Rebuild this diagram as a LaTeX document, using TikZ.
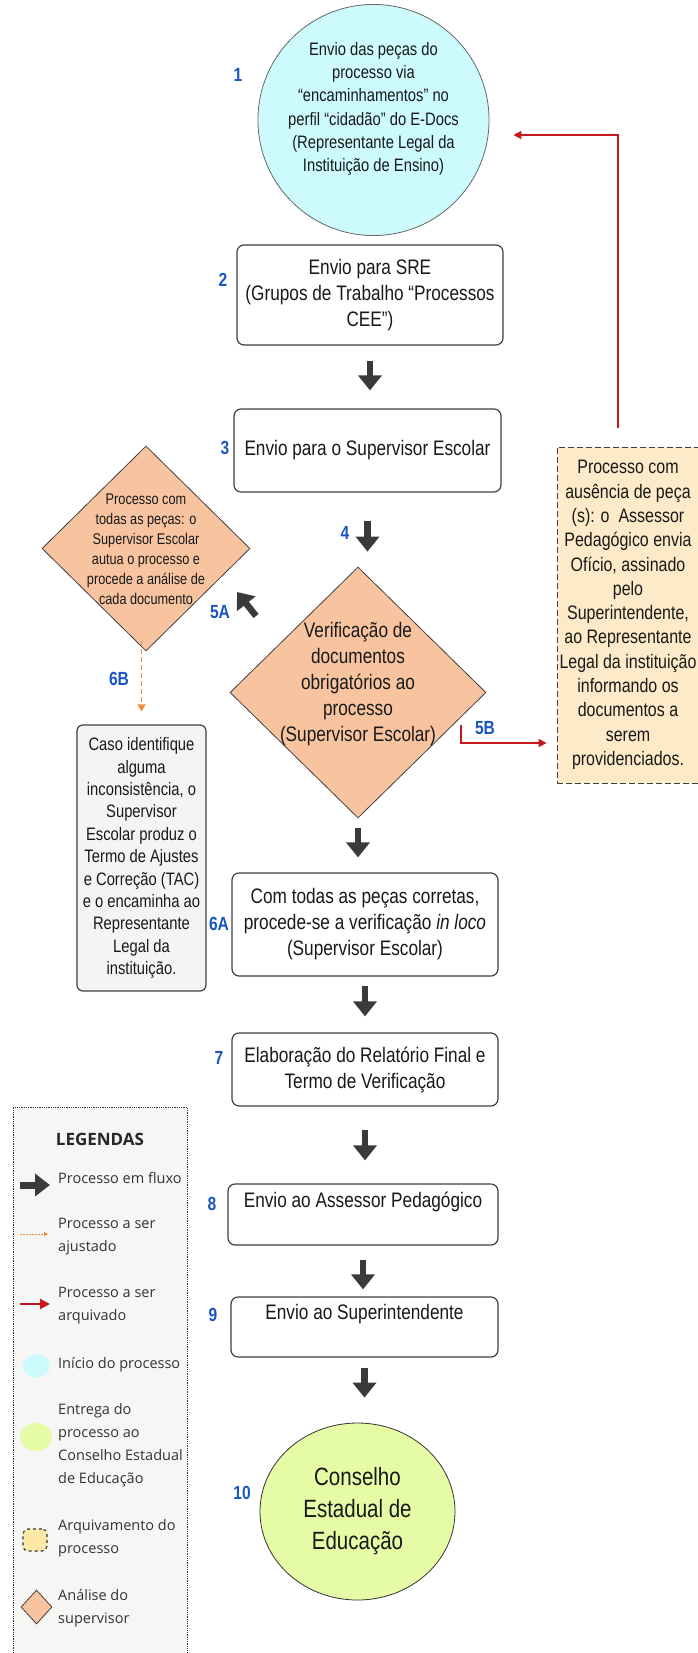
\documentclass[tikz,border=0pt]{standalone}
\usepackage{fontspec}
\setmainfont{Liberation Sans}[FakeStretch=0.82]
\newfontfamily\legendfont{Open Sans}
\usetikzlibrary{arrows.meta,shapes.geometric}

\definecolor{flowgray}{HTML}{3A3A3A}
\definecolor{boxline}{HTML}{404040}
\definecolor{numblue}{HTML}{1A55C2}
\definecolor{startcyan}{HTML}{CCFAFD}
\definecolor{ceegreen}{HTML}{E6FBA6}
\definecolor{suporange}{HTML}{F8C4A0}
\definecolor{archbeige}{HTML}{FDEAC8}
\definecolor{archyellow}{HTML}{FDE8A6}
\definecolor{tacgray}{HTML}{F4F5F2}
\definecolor{legendgray}{HTML}{F6F6F4}
\definecolor{rejectred}{HTML}{C8161B}
\definecolor{adjustorange}{HTML}{EF8A3C}

\tikzset{
    proc/.style={draw=boxline, line width=1.2pt, rounded corners=7pt, fill=white, align=center,
        inner sep=2pt, text=black!90, font=\fontsize{21}{26}\selectfont},
    num/.style={text=numblue, font=\fontsize{19}{19}\selectfont\bfseries},
    flow/.style={draw=flowgray, line width=6.5pt, -{Triangle[width=23pt,length=15pt]}},
    reject/.style={draw=rejectred, line width=1.6pt, -{Triangle[width=8pt,length=8pt]}},
    adjust/.style={draw=adjustorange, line width=1.6pt, dash pattern=on 5pt off 3pt,
        -{Triangle[width=8pt,length=7pt]}},
    checkd/.style={diamond, draw=boxline, line width=0.8pt, fill=suporange, inner sep=0pt},
    legtext/.style={anchor=west, align=left, inner sep=0pt, text=black!80,
        font=\legendfont\fontsize{14.5}{23}\selectfont}
}

\begin{document}
\begin{tikzpicture}[x=1pt, y=-1pt]
    \useasboundingbox (0,0) rectangle (697,1653);

    \node[draw=black!80, densely dotted, line width=0.8pt, fill=legendgray, minimum width=174pt,
        minimum height=560pt, anchor=north west, inner sep=0pt] (legend) at (13,1107) {};

    \node[circle, draw=black!60, line width=0.8pt, fill=startcyan, minimum size=231pt, inner sep=0pt,
        align=center, text=black!90, font=\fontsize{18}{23.3}\selectfont] (start) at (373.5,120)
        {Envio das peças do\\processo via\\“encaminhamentos” no\\perfil “cidadão” do E-Docs\\(Representante Legal da\\Instituição de Ensino)\\[3pt]\mbox{}};
    \node[proc, minimum width=266pt, minimum height=100pt] (sre) at (370,295)
        {Envio para SRE\\(Grupos de Trabalho “Processos\\CEE”)};
    \node[proc, minimum width=267pt, minimum height=83pt] (sup) at (367.5,450.5)
        {Envio para o Supervisor Escolar};

    \node[checkd, minimum width=256pt, minimum height=251pt] (verif) at (358,692.5) {};
    \node[align=center, text=black!90, font=\fontsize{21}{26}\selectfont] (veriftxt) at (358,684.5)
        {Verificação de\\documentos\\obrigatórios ao\\processo\\(Supervisor Escolar)};
    \node[checkd, minimum width=208pt, minimum height=205pt] (audit) at (146,548.5) {};
    \node[align=center, text=black!90, font=\fontsize{15.5}{20}\selectfont] (audittxt) at (146,549.5)
        {Processo com\\todas as peças: o\\Supervisor Escolar\\autua o processo e\\procede a análise de\\cada documento};

    \node[proc, fill=tacgray, rounded corners=6pt, minimum width=129pt, minimum height=266pt,
        font=\fontsize{18}{22.4}\selectfont] (tac) at (141.5,858)
        {Caso identifique\\alguma\\inconsistência, o\\Supervisor\\Escolar produz o\\Termo de Ajustes\\e Correção (TAC)\\e o encaminha ao\\Representante\\Legal da\\instituição.};
    \node[draw=black!75, dash pattern=on 6pt off 3pt, line width=0.9pt, fill=archbeige, minimum width=142pt,
        minimum height=336pt, align=center, inner sep=1pt, text=black!90,
        font=\fontsize{19.5}{24.3}\selectfont] (arch) at (628,615)
        {Processo com\\ausência de peça\\(s): o\ \ Assessor\\Pedagógico envia\\Ofício, assinado\\pelo\\Superintendente,\\ao Representante\\Legal da instituição\\informando os\\documentos a\\serem\\providenciados.};

    \node[proc, minimum width=266pt, minimum height=103pt] (loco) at (365,924.5)
        {Com todas as peças corretas,\\procede-se a verificação \textit{in loco}\\(Supervisor Escolar)};
    \node[proc, minimum width=266pt, minimum height=73pt] (relat) at (365,1069.5)
        {Elaboração do Relatório Final e\\Termo de Verificação};
    \node[proc, minimum width=270pt, minimum height=61pt] (assessor) at (363,1214.5)
        {Envio ao Assessor Pedagógico\\[4pt]\mbox{}};
    \node[proc, minimum width=267pt, minimum height=60pt] (superint) at (364.5,1327)
        {Envio ao Superintendente\\[4pt]\mbox{}};
    \node[ellipse, draw=black!80, line width=0.8pt, fill=ceegreen, minimum width=195pt, minimum height=177pt,
        align=center, text=black!90, font=\fontsize{25}{32}\selectfont] (cee) at (357.5,1511.5)
        {Conselho\\Estadual de\\Educação};

    \foreach \name/\x/\y in {1/238/75, 2/223/280, 3/225/448, 4/345/533, 5A/220/612, 5B/485/728,
        6B/119/679, 6A/219/924, 7/219/1058, 8/212/1204, 9/213/1315, 10/242/1493}
        \node[num] (n\name) at (\x,\y) {\name};

    \foreach \a/\b/\sa/\sb in {sre/sup/15/18, sup/verif/28/15, verif/loco/10/15, loco/relat/9/16,
        relat/assessor/23/23, assessor/superint/14/7, superint/cee/10/25}
        \draw[flow, shorten <=\sa pt, shorten >=\sb pt] (\a.south) -- (\a.south |- \b.north);

    \coordinate (a5from) at (256,616);
    \coordinate (a5to) at (237,592);
    \draw[flow] (a5from) -- (a5to);

    \draw[adjust, shorten <=-10pt, shorten >=13pt] (audit.south -| tac.north) -- (tac.north);
    \draw[reject, shorten <=19pt, shorten >=24pt] ([xshift=-10pt]arch.north) |- ([yshift=-15pt]start.east);
    \coordinate (b5from) at (461,725);
    \draw[reject, shorten >=10pt] (b5from) |- ([yshift=-128pt]arch.west);

    \node[text=black!85, font=\legendfont\fontsize{17}{17}\selectfont\bfseries] (legtitle) at (100,1139) {LEGENDAS};
    \coordinate (lf1) at (20,1185);
    \coordinate (lf2) at (50,1185);
    \draw[flow, line width=7pt, -{Triangle[width=22pt,length=15pt]}] (lf1) -- (lf2);
    \coordinate (la1) at (20,1234);
    \coordinate (la2) at (48,1234);
    \draw[adjust, line width=0.9pt, dash pattern=on 2pt off 1pt, -{Triangle[width=4pt,length=4pt]}] (la1) -- (la2);
    \coordinate (lr1) at (20,1304);
    \coordinate (lr2) at (50,1304);
    \draw[reject, line width=2.2pt, -{Triangle[width=10pt,length=10pt]}] (lr1) -- (lr2);
    \node[ellipse, fill=startcyan, minimum width=27pt, minimum height=23pt, inner sep=0pt] (legstart) at (36.5,1366) {};
    \node[ellipse, fill=ceegreen, minimum width=32pt, minimum height=28pt, inner sep=0pt] (legcee) at (36,1437) {};
    \node[draw=black!80, dashed, line width=1.1pt, rounded corners=5pt, fill=archyellow, minimum width=24pt,
        minimum height=22pt, inner sep=0pt] (legarch) at (35,1540) {};
    \node[checkd, minimum width=31pt, minimum height=34pt] (legcheck) at (36.5,1607) {};

    \node[legtext] (lt1) at (58,1178) {Processo em fluxo};
    \node[legtext] (lt2) at (58,1236.5) {Processo a ser\\ajustado};
    \node[legtext] (lt3) at (58,1305.5) {Processo a ser\\arquivado};
    \node[legtext] (lt4) at (58,1365) {Início do processo};
    \node[legtext] (lt5) at (58,1445.5) {Entrega do\\processo ao\\Conselho Estadual\\de Educação};
    \node[legtext] (lt6) at (58,1538.5) {Arquivamento do\\processo};
    \node[legtext] (lt7) at (58,1608.5) {Análise do\\supervisor};
\end{tikzpicture}
\end{document}
